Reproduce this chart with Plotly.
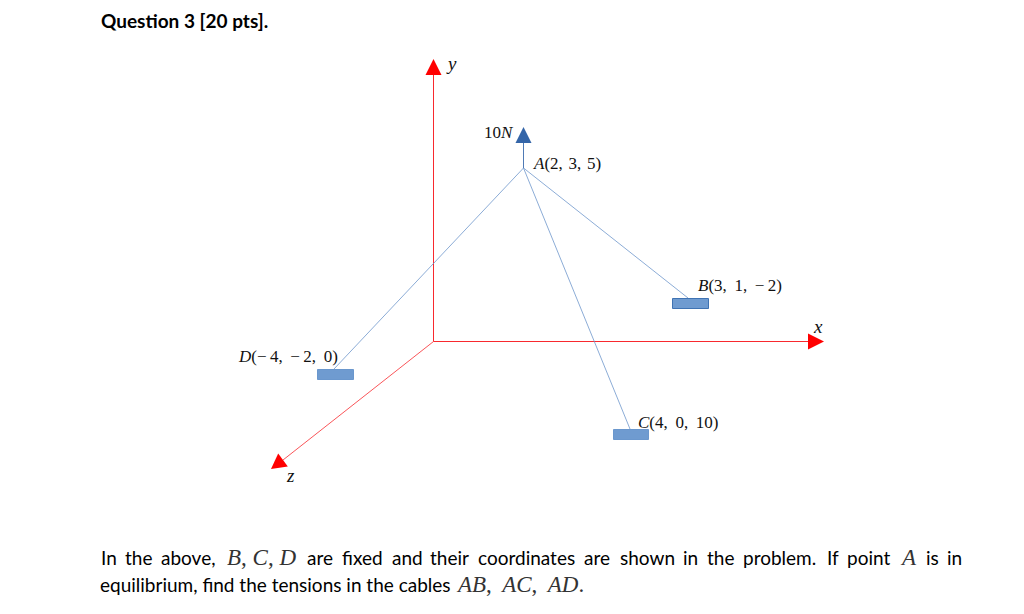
import math
import plotly.graph_objects as go

# Everything in page pixels, y goes down
W, H = 1024, 614

AXIS_X = [433.5, 808]
AXIS_Y = [341.5, 341.5]
AXIS_UP_X = [433.5, 433.5]
AXIS_UP_Y = [341.5, 75]
AXIS_Z_X = [433.5, 283]
AXIS_Z_Y = [341.5, 460]

POINT_A = (523.5, 168)
CABLE_ENDS_X = [688, 630, 334]
CABLE_ENDS_Y = [298, 429, 369]
FORCE_X = [523.5, 523.5]
FORCE_Y = [168, 143]

# arrowheads: tip, then centre of the base
TIP_X = [433.5, 824, 271, 523.5]
TIP_Y = [59, 341.5, 469, 127]
BASE_X = [433.5, 808, 283, 523.5]
BASE_Y = [75, 341.5, 460, 143]
TIP_COLOR = ["#ff0000", "#ff0000", "#ff0000", "#3465a8"]
TIP_WIDTH = 16

BAR_LEFT = [317.5, 672.5, 613.5]
BAR_RIGHT = [353.5, 708.5, 648.5]
BAR_TOP = [369.5, 298.5, 429.5]
BAR_BOTTOM = [379.5, 308.5, 439.5]
BAR_EDGE = ["#6a97cd", "#3f73b3", "#6a97cd"]

MINUS = "\u2212\u2009"
GAP = " \u2009"
SMALL_GAP = " \u200a"
MATH_TEXT = ["<i>y</i>", "<i>x</i>", "<i>z</i>", "10<i>N</i>", f"<i>A</i>(2,{SMALL_GAP}3,{SMALL_GAP}5)",
             f"<i>B</i>(3,{GAP}1,{GAP}{MINUS}2)", f"<i>C</i>(4,{GAP}0,{GAP}10)",
             f"<i>D</i>({MINUS}4,{GAP}{MINUS}2,{GAP}0)"]
MATH_X = [446, 813, 286, 484, 533, 698, 638, 238]
MATH_Y = [63, 326, 475, 132, 163, 285, 422, 356]
MATH_SIZE = [19, 19, 19, 17, 17, 17, 17, 17]

LINE1_WORDS = ["In", "the", "above,", "are", "fixed", "and", "their", "coordinates",
               "are", "shown", "in", "the", "problem.", "If", "point", "is", "in"]
LINE1_X = [101, 125, 161, 307, 342, 392, 430, 478, 584, 620, 683, 707, 743, 827, 847, 926, 947]
LINE1_Y = 557
LINE2_TEXT = "equilibrium, find the tensions in the cables"
LINE2_Y = 584
INLINE_MATH = ["<i>B</i>, <i>C</i>, <i>D</i>", "<i>A</i>", "<i>AB</i>,\u2009 <i>AC</i>,\u2009 <i>AD</i>."]
INLINE_X = [227, 900, 456]
INLINE_Y = [557, 557, 584]

SERIF = "Liberation Serif"
BODY = "Lato"
RED = "#f8292e"
CABLE = "#6f97cc"

fig = go.Figure()


def add_line(xs, ys, color, width=1):
    fig.add_trace(go.Scatter(x=xs, y=ys, mode="lines", line=dict(color=color, width=width),
                             hoverinfo="skip"))


add_line(AXIS_X, AXIS_Y, RED)
add_line(AXIS_UP_X, AXIS_UP_Y, RED)
add_line(AXIS_Z_X, AXIS_Z_Y, RED, 0.8)
for ex, ey in zip(CABLE_ENDS_X, CABLE_ENDS_Y):
    add_line([POINT_A[0], ex], [POINT_A[1], ey], CABLE, 0.8)
add_line(FORCE_X, FORCE_Y, "#4f7ab5", 1)

for tx, ty, bx, by, c in zip(TIP_X, TIP_Y, BASE_X, BASE_Y, TIP_COLOR):
    length = math.hypot(tx - bx, ty - by)
    nx, ny = (ty - by) / length * TIP_WIDTH / 2, (bx - tx) / length * TIP_WIDTH / 2
    fig.add_trace(go.Scatter(x=[tx, bx + nx, bx - nx, tx], y=[ty, by + ny, by - ny, ty],
                             mode="lines", fill="toself", fillcolor=c, line=dict(width=0),
                             hoverinfo="skip"))

for x0, x1, y0, y1, edge in zip(BAR_LEFT, BAR_RIGHT, BAR_TOP, BAR_BOTTOM, BAR_EDGE):
    fig.add_shape(type="rect", x0=x0, x1=x1, y0=y0, y1=y1,
                  fillcolor="#6f9bd0", line=dict(color=edge, width=1))


def add_text(x, y, text, family, size, color="#111111"):
    fig.add_annotation(x=x, y=y, text=text, showarrow=False, xanchor="left", yanchor="middle",
                       font=dict(family=family, size=size, color=color), borderpad=0, borderwidth=0)


for t, x, y, s in zip(MATH_TEXT, MATH_X, MATH_Y, MATH_SIZE):
    add_text(x, y, t, SERIF, s)

add_text(101, 20, "<b>Question 3 [20 pts].</b>", BODY, 19, "#000000")
for word, x in zip(LINE1_WORDS, LINE1_X):
    add_text(x, LINE1_Y, word, BODY, 19, "#000000")
add_text(100, LINE2_Y, LINE2_TEXT, BODY, 19, "#000000")
for t, x, y in zip(INLINE_MATH, INLINE_X, INLINE_Y):
    add_text(x, y, t, SERIF, 23, "#333333")

fig.update_layout(
    width=W, height=H, margin=dict(l=0, r=0, t=0, b=0),
    paper_bgcolor="white", plot_bgcolor="white", showlegend=False,
    xaxis=dict(range=[0, W], visible=False, fixedrange=True),
    yaxis=dict(range=[H, 0], visible=False, fixedrange=True),
)
fig.write_html("out.html", config=dict(displayModeBar=False),
               post_script="document.body.style.margin='0';")
